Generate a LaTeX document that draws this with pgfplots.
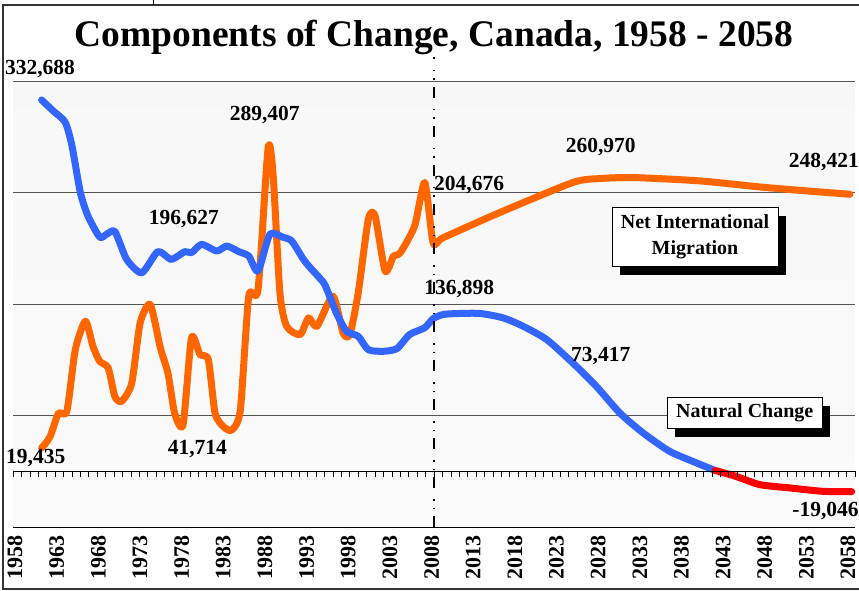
\documentclass[border=0pt]{standalone}
\usepackage{fontspec}
\setmainfont{Liberation Serif}
\usepackage{pgfplots}
\pgfplotsset{compat=1.18}
\usetikzlibrary{shadows,calc}

\definecolor{natblue}{RGB}{51,102,255}
\definecolor{migorange}{RGB}{255,102,0}
\definecolor{natred}{RGB}{255,0,0}
\definecolor{gridgray}{RGB}{85,85,85}

\newcommand{\lbl}{\bfseries\fontsize{21.5}{23}\selectfont}

\begin{document}
\begin{tikzpicture}
\begin{axis}[
  scale only axis, width=842pt, height=446pt,
  xmin=1958, xmax=2058, ymin=-50000, ymax=350000,
  enlargelimits=false, clip=false,
  axis line style={draw=none},
  axis background/.style={top color=black!3, middle color=black!10, bottom color=black!2},
  ytick={50000,150000,250000,350000}, yticklabels={}, scaled y ticks=false,
  ymajorgrids, major grid style={gridgray, line width=1pt},
  major tick length=0pt,
  % year labels sit a little inside the yearly ticks, as in the source chart
  xtick={1958.24,1963.19,1968.13,1973.08,1978.03,1982.97,1987.92,1992.87,1997.81,2002.76,2007.71,
         2012.65,2017.60,2022.54,2027.49,2032.44,2037.38,2042.33,2047.28,2052.22,2057.17},
  xticklabels={1958,1963,1968,1973,1978,1983,1988,1993,1998,2003,2008,
               2013,2018,2023,2028,2033,2038,2043,2048,2053,2058},
  xticklabel style={font=\bfseries\fontsize{22}{22}\selectfont,
    yshift=-8pt, rotate=90, anchor=east, inner sep=0pt},
]

% net international migration
\addplot[migorange, line width=7pt, line cap=round, line join=round, smooth, tension=0.4] coordinates {
(1961.4,20800) (1962.4,31000) (1963.4,52000) (1964.4,54000) (1965.4,109000)
(1966.6,134600) (1967.5,112000) (1968.3,98600) (1969.3,92700) (1970.1,67000)
(1970.9,62700) (1972.1,79000) (1973.1,133000) (1974.3,149600) (1975.5,110700)
(1976.4,88000) (1977.2,52000) (1978.2,41800) (1979.2,119700) (1980.2,104700)
(1981.2,100000) (1982.0,52000) (1983.0,40000) (1984.0,37000) (1985.0,55000)
(1986.0,157000) (1987.1,163000) (1988.3,290000) (1988.9,265000) (1989.7,160000)
(1990.5,130000) (1992.1,122600) (1993.1,137600) (1994.1,130000) (1996.0,157000)
(1997.2,124000) (1998.0,122600) (1999.0,160000) (2000.2,226000) (2001.0,229000)
(2002.2,179500) (2003.2,193000) (2004.0,196000) (2005.7,220000) (2006.9,259000)
(2007.9,205000) (2009.1,209500) (2015.8,232000) (2024.5,259000) (2027.7,262500)
(2031.7,263400) (2039.6,260400) (2047.5,254400) (2057.4,248400)
};

% natural change, positive part
\addplot[natblue, line width=7pt, line cap=round, line join=round, smooth, tension=0.4] coordinates {
(1961.4,333000) (1962.8,323000) (1964.2,313000) (1965.0,292000) (1966.0,250000)
(1966.9,229000) (1968.3,210000) (1969.1,212500) (1970.1,215000) (1971.5,190000)
(1973.3,178000) (1975.2,197000) (1976.8,190000) (1978.4,197000) (1979.2,196000)
(1980.4,203500) (1982.2,197500) (1983.4,202000) (1984.8,197000) (1986.0,193000)
(1987.1,179500) (1988.5,212500) (1990.0,210000) (1991.1,206500) (1992.5,190000)
(1993.3,182500) (1994.9,169000) (1995.6,157000) (1996.4,142000) (1997.6,125600)
(1999.0,121000) (2000.2,109000) (2002.0,107600) (2003.6,110000) (2005.1,122600)
(2006.9,128700) (2007.9,136900) (2009.1,140600) (2011.0,141500) (2013.5,141500)
(2016.2,137600) (2018.6,130000) (2021.4,118000) (2024.5,97000) (2027.3,76000)
(2030.1,52000) (2032.9,34000) (2036.0,17800) (2039.2,7400) (2041.4,700)
};

% natural change, negative part
\addplot[natred, line width=7pt, line cap=round, line join=round, smooth, tension=0.4] coordinates {
(2041.4,700) (2043.9,-4700) (2046.7,-12000) (2050.3,-15000) (2054.2,-18000) (2057.6,-18300)
};

% reference points used after the axis
\coordinate (bl) at (axis cs:1958,-50000);
\coordinate (br) at (axis cs:2058,-50000);
\coordinate (zl) at (axis cs:1958,0);
\coordinate (zr) at (axis cs:2058,0);
\coordinate (d0) at (axis cs:2008,-50000);
\coordinate (d1) at (axis cs:2008,350000);
\coordinate (nimbox) at (axis cs:2039.0,210000);
\coordinate (ncbox) at (axis cs:2044.9,52100);

% value labels
\node[font=\lbl] at (axis cs:1961.2,360700) {332,688};
\node[font=\lbl] at (axis cs:1987.9,319400) {289,407};
\node[font=\lbl] at (axis cs:1978.3,226000) {196,627};
\node[font=\lbl, anchor=west, inner sep=0pt] at (axis cs:2008.0,257000) {204,676};
\node[font=\lbl] at (axis cs:2027.8,291000) {260,970};
\node[font=\lbl] at (axis cs:2054.3,277600) {248,421};
\node[font=\lbl] at (axis cs:2011.0,163500) {136,898};
\node[font=\lbl] at (axis cs:2027.8,103000) {73,417};
\node[font=\lbl] at (axis cs:1960.7,12000) {19,435};
\node[font=\lbl] at (axis cs:1979.9,20200) {41,714};
\node[font=\lbl] at (axis cs:2054.5,-36000) {-19,046};
\end{axis}

% bottom line and zero line with yearly ticks
\draw[black, line width=1pt] (bl) -- (br);
\draw[black, line width=0.8pt] (zl) -- (zr);
\foreach \i in {0,...,100} \draw[black, line width=0.6pt] ($(zl)!\i/100!(zr)$) -- ++(0,-6pt);

% 2008 divider
\draw[black, line width=1.3pt, dash pattern=on 11pt off 7pt on 1.5pt off 7pt on 1.5pt off 11pt]
  (d0) -- (d1) -- ++(0,24pt);

% series boxes
\node[draw=black, line width=0.8pt, fill=white, align=center,
  font=\bfseries\fontsize{20}{26}\selectfont, minimum width=166pt, minimum height=59pt, inner sep=2pt,
  drop shadow={shadow xshift=8pt, shadow yshift=-8pt, fill=black, opacity=1}]
  at (nimbox) {Net International\\Migration};
\node[draw=black, line width=0.8pt, fill=white, align=center,
  font=\bfseries\fontsize{20}{24}\selectfont, minimum width=155pt, minimum height=31pt, inner sep=2pt,
  drop shadow={shadow xshift=8pt, shadow yshift=-8pt, fill=black, opacity=1}]
  at (ncbox) {Natural Change};

% title
\node[font=\bfseries\fontsize{37.5}{40}\selectfont, anchor=base]
  at ($(bl |- d1)!0.5!(br |- d1) + (0,35pt)$) {Components of Change, Canada, 1958 - 2058};

% outer frame
\draw[black!80, line width=1.3pt] ($(bl)+(846pt,522pt)$) -- ($(bl)+(-10pt,522pt)$)
  -- ($(bl)+(-10pt,-62pt)$) -- ($(bl)+(846pt,-62pt)$);
\draw[black, line width=1pt] ($(bl)+(140pt,527pt)$) -- ($(bl)+(140pt,522pt)$);
\pgfresetboundingbox
\path ($(bl)+(-13pt,-63pt)$) rectangle ($(bl)+(846pt,527pt)$);
\end{tikzpicture}
\end{document}
